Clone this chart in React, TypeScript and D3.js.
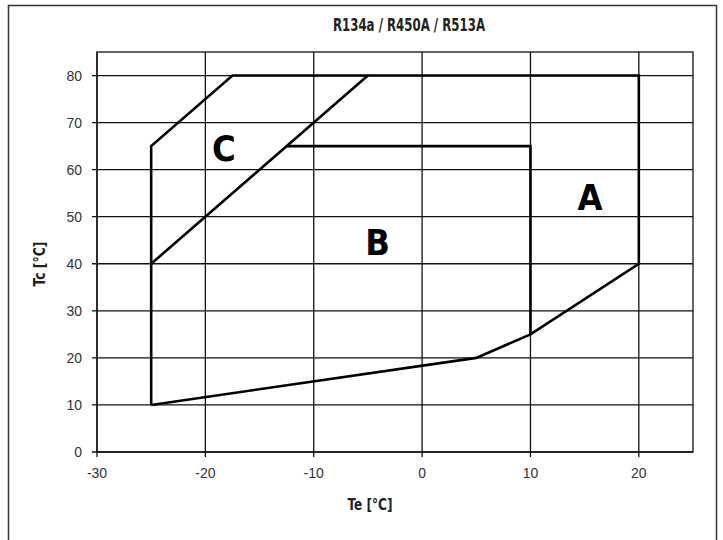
import React, { useEffect, useRef } from 'react';
import * as d3 from 'd3';

// operating envelope, Te = evaporating temp, Tc = condensing temp
const title = 'R134a / R450A / R513A';
const xLabel = 'Te [°C]';
const yLabel = 'Tc [°C]';

const xTicks = [-30, -20, -10, 0, 10, 20];
const yTicks = [0, 10, 20, 30, 40, 50, 60, 70, 80];

const outerTe = [-25, -25, -17.5, 20, 20, 10, 5, -25];
const outerTc = [10, 65, 80, 80, 40, 25, 20, 10];

const lineCTe = [-25, -5];
const lineCTc = [40, 80];

const areaBTe = [-12.5, 10, 10];
const areaBTc = [65, 65, 25];

const zoneNames = ['A', 'B', 'C'];
const zoneTe = [15.5, -4.1, -18.3];
const zoneTc = [51.4, 41.8, 61.8];

export default function App() {
  const ref = useRef<SVGSVGElement>(null);

  useEffect(() => {
    const svg = d3.select(ref.current);
    svg.selectAll('*').remove();

    const x = d3.scaleLinear().domain([-30, 25]).range([97, 693]);
    const y = d3.scaleLinear().domain([0, 85]).range([452, 52]);

    const condensed = '"DejaVu Sans Condensed", "DejaVu Sans", sans-serif';
    const arial = '"Liberation Sans", Arial, sans-serif';

    // outer frame
    svg.append('rect')
      .attr('x', 8.5).attr('y', 5.5)
      .attr('width', 708).attr('height', 560)
      .attr('fill', 'none')
      .attr('stroke', '#333')
      .attr('stroke-width', 1.5);

    svg.append('text')
      .attr('x', 409).attr('y', 31)
      .attr('text-anchor', 'middle')
      .attr('font-family', condensed)
      .attr('font-weight', 'bold')
      .attr('font-size', 17)
      .attr('textLength', 152)
      .attr('lengthAdjust', 'spacingAndGlyphs')
      .attr('fill', '#222')
      .text(title);

    const g = svg.append('g');

    // grid
    g.selectAll('line.vg')
      .data(xTicks)
      .enter().append('line')
      .attr('x1', d => x(d)).attr('x2', d => x(d))
      .attr('y1', y(85)).attr('y2', y(0) + 5)
      .attr('stroke', '#111').attr('stroke-width', 1.3);

    g.selectAll('line.hg')
      .data(yTicks)
      .enter().append('line')
      .attr('x1', x(-30) - 5).attr('x2', x(25))
      .attr('y1', d => y(d)).attr('y2', d => y(d))
      .attr('stroke', '#111').attr('stroke-width', 1.3);

    g.append('rect')
      .attr('x', x(-30)).attr('y', y(85))
      .attr('width', x(25) - x(-30)).attr('height', y(0) - y(85))
      .attr('fill', 'none')
      .attr('stroke', '#111').attr('stroke-width', 1.3);

    // tick labels
    g.selectAll('text.xt')
      .data(xTicks)
      .enter().append('text')
      .attr('x', d => x(d)).attr('y', y(0) + 26)
      .attr('text-anchor', 'middle')
      .attr('font-family', arial)
      .attr('font-size', 14)
      .attr('fill', '#333')
      .text(d => d);

    g.selectAll('text.yt')
      .data(yTicks)
      .enter().append('text')
      .attr('x', x(-30) - 15).attr('y', d => y(d) + 5)
      .attr('text-anchor', 'end')
      .attr('font-family', arial)
      .attr('font-size', 14)
      .attr('fill', '#333')
      .text(d => d);

    // axis titles
    svg.append('text')
      .attr('x', 370).attr('y', 510)
      .attr('text-anchor', 'middle')
      .attr('font-family', condensed)
      .attr('font-weight', 'bold')
      .attr('font-size', 16)
      .attr('textLength', 45)
      .attr('lengthAdjust', 'spacingAndGlyphs')
      .attr('fill', '#222')
      .text(xLabel);

    svg.append('text')
      .attr('transform', 'translate(45,264) rotate(-90)')
      .attr('text-anchor', 'middle')
      .attr('font-family', condensed)
      .attr('font-weight', 'bold')
      .attr('font-size', 16)
      .attr('textLength', 45)
      .attr('lengthAdjust', 'spacingAndGlyphs')
      .attr('fill', '#222')
      .text(yLabel);

    // envelope lines
    const draw = (te: number[], tc: number[]) => {
      const pts = te.map((t, i) => [x(t), y(tc[i])] as [number, number]);
      g.append('path')
        .attr('d', d3.line()(pts))
        .attr('fill', 'none')
        .attr('stroke', '#000')
        .attr('stroke-width', 2.6)
        .attr('stroke-linejoin', 'miter');
    };
    draw(outerTe, outerTc);
    draw(lineCTe, lineCTc);
    draw(areaBTe, areaBTc);

    g.selectAll('text.zone')
      .data(zoneNames)
      .enter().append('text')
      .attr('x', (d, i) => x(zoneTe[i]))
      .attr('y', (d, i) => y(zoneTc[i]))
      .attr('text-anchor', 'middle')
      .attr('font-family', condensed)
      .attr('font-weight', 'bold')
      .attr('font-size', 36)
      .attr('fill', '#000')
      .text(d => d);
  }, []);

  return (
    <svg ref={ref} width={723} height={540}
      style={{ position: 'absolute', left: 0, top: 0, background: '#fff' }} />
  );
}
